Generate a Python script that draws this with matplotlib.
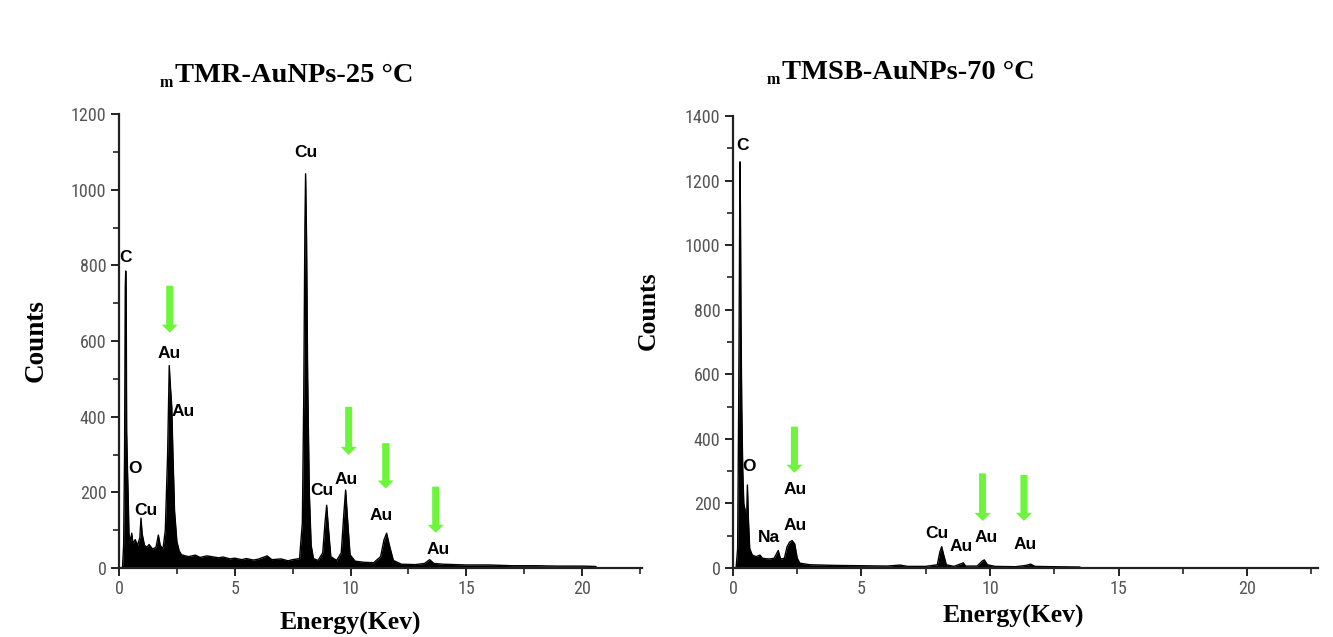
import matplotlib
matplotlib.use("Agg")
import matplotlib.pyplot as plt
from matplotlib import font_manager
from matplotlib.ticker import MultipleLocator
from matplotlib.patches import FancyArrow

# ---------------- data ----------------
# Left panel: mTMR-AuNPs-25 °C
left_energy = [0.15, 0.20, 0.24, 0.27, 0.29, 0.31, 0.33, 0.37, 0.40, 0.43, 0.50, 0.55, 0.60,
               0.70, 0.80, 0.90, 0.95, 1.00, 1.10, 1.20, 1.30, 1.45, 1.60, 1.70, 1.78, 1.90,
               2.00, 2.10, 2.17, 2.22, 2.28, 2.33, 2.40, 2.50, 2.60, 2.70, 3.00, 3.30, 3.50,
               3.80, 4.00, 4.30, 4.50, 4.80, 5.00, 5.30, 5.50, 5.80, 6.00, 6.40, 6.60, 7.00,
               7.30, 7.50, 7.80, 7.92, 7.98, 8.03, 8.06,
               8.10, 8.15, 8.22, 8.30, 8.40, 8.60, 8.80, 8.90, 8.97, 9.04, 9.15, 9.40, 9.60,
               9.72, 9.79, 9.86, 9.98, 10.2, 10.6, 11.0, 11.3, 11.45, 11.56, 11.68, 11.85,
               12.2, 12.8, 13.2, 13.42, 13.6, 14.0, 15.0, 16.0, 17.0, 18.0, 19.0, 20.0, 20.6, 20.62]
left_counts = [0, 60, 300, 740, 785, 740, 360, 250, 180, 90, 70, 92, 65,
               75, 60, 80, 132, 90, 60, 55, 62, 50, 55, 87, 60, 50,
               100, 300, 535, 480, 425, 300, 150, 70, 45, 35, 30, 34, 28,
               32, 30, 27, 29, 24, 26, 22, 25, 21, 23, 32, 22, 24,
               19, 22, 25, 120, 450, 900, 1042,
               880, 500, 200, 60, 25, 20, 40, 120, 166, 110, 30, 20, 40,
               150, 206, 140, 35, 18, 15, 14, 30, 75, 92, 60, 20,
               10, 9, 12, 22, 12, 10, 8, 8, 6, 6, 5, 5, 4, 0]

# Right panel: mTMSB-AuNPs-70 °C
right_energy = [0.12, 0.18, 0.22, 0.25, 0.27, 0.29, 0.31, 0.34, 0.38, 0.42, 0.47, 0.52, 0.56,
                0.60, 0.65, 0.75, 0.90, 1.05, 1.15, 1.40, 1.60, 1.76, 1.85, 2.00, 2.10, 2.20,
                2.30, 2.40, 2.50, 2.60, 3.00, 3.50, 4.00, 5.00, 6.00, 6.50, 6.80, 7.50, 7.95,
                8.05, 8.12, 8.20, 8.30, 8.60, 8.90, 8.96, 9.05, 9.50, 9.70, 9.78, 9.90, 10.2,
                11.0, 11.4, 11.58, 11.75, 12.5, 13.5, 13.52]
right_counts = [0, 60, 500, 920, 1258, 1100, 780, 500, 300, 200, 180, 120, 257,
                150, 60, 40, 35, 40, 30, 28, 30, 54, 28, 30, 65, 80,
                85, 75, 30, 15, 10, 9, 8, 7, 6, 9, 5, 5, 10,
                50, 66, 40, 10, 5, 14, 16, 6, 6, 22, 25, 10, 5,
                4, 8, 12, 5, 4, 3, 0]

# peak labels: (text, energy, counts)
left_labels = [("C", 0.30, 822), ("Cu", 8.08, 1097), ("Au", 2.16, 568), ("Au", 2.78, 413),
               ("O", 0.69, 264), ("Cu", 1.17, 153), ("Cu", 8.77, 206), ("Au", 9.81, 235),
               ("Au", 11.32, 140), ("Au", 13.78, 50)]
right_labels = [("C", 0.36, 1310), ("O", 0.62, 314), ("Au", 2.41, 244), ("Na", 1.41, 94),
                ("Au", 2.41, 133), ("Cu", 7.93, 107), ("Au", 8.87, 66), ("Au", 9.87, 94),
                ("Au", 11.36, 74)]

# green arrows: (energy, start counts, tip counts)
left_arrows = [(2.19, 746, 622), (9.92, 426, 299), (11.52, 330, 210), (13.68, 215, 93)]
right_arrows = [(2.39, 438, 295), (9.71, 293, 146), (11.32, 288, 146)]

left_title = "TMR-AuNPs-25 °C"
right_title = "TMSB-AuNPs-70 °C"
x_label = "Energy(Kev)"
y_label = "Counts"

# ---------------- fonts ----------------
available = {f.name for f in font_manager.fontManager.ttflist}
def pick(cands):
    for c in cands:
        if c in available:
            return c
    return "DejaVu Sans"
narrow = pick(["Liberation Sans Narrow", "DejaVu Sans Condensed", "Roboto Condensed", "Liberation Sans"])
sans = pick(["Liberation Sans", "Arimo", "DejaVu Sans"])
serif = pick(["Liberation Serif", "Tinos", "DejaVu Serif"])

W, H = 1333, 637
fig = plt.figure(figsize=(W / 100, H / 100), dpi=100)

def fx(px):
    return px / W

def fy(py):
    return 1 - py / H

GREEN = "#6cf53a"
TICKC = "#555555"

def make_panel(rect, xmax, energy, counts, ymax, labels, arrows, xppu, yppu):
    ax = fig.add_axes(rect)
    ax.fill_between(energy, counts, 0, color="black", linewidth=0)
    ax.plot(energy, counts, color="black", linewidth=1.0)
    ax.set_xlim(0, xmax)
    ax.set_ylim(0, ymax)
    for s in ("top", "right"):
        ax.spines[s].set_visible(False)
    for s in ("left", "bottom"):
        ax.spines[s].set_linewidth(1.6)
        ax.spines[s].set_color("#222222")
    ax.xaxis.set_major_locator(MultipleLocator(5))
    ax.xaxis.set_minor_locator(MultipleLocator(2.5))
    ax.yaxis.set_major_locator(MultipleLocator(200))
    ax.yaxis.set_minor_locator(MultipleLocator(100))
    ax.tick_params(which="major", direction="out", length=6, width=1.4, color="#222222",
                   labelcolor=TICKC, labelsize=13, pad=3)
    ax.tick_params(which="minor", direction="out", length=4, width=1.2, color="#222222")
    for lab in ax.get_xticklabels() + ax.get_yticklabels():
        lab.set_fontfamily(narrow)
    for t, x, y in labels:
        ax.text(x, y, t, ha="center", va="center", fontsize=12.5, fontweight="bold",
                family=sans, color="black")
    for x, y0, y1 in arrows:
        hl = 8 / yppu
        ar = FancyArrow(x, y0, 0, y1 - y0, width=7 / xppu, head_width=16 / xppu,
                        head_length=hl, length_includes_head=True, color=GREEN,
                        linewidth=0)
        ax.add_patch(ar)
    return ax

# left axes: x 0 at px 119, 23.15 px per keV; y 0 at px 568, 1200 at px 114
lx0, lxppu, lxmax = 119, 23.15, 22.6
ly0, ly1 = 568, 114
axL = make_panel([fx(lx0), fy(ly0), fx(lxmax * lxppu), (ly0 - ly1) / H], lxmax,
                 left_energy, left_counts, 1200, left_labels, left_arrows,
                 lxppu, (ly0 - ly1) / 1200)

rx0, rxppu, rxmax = 733, 25.7, 22.75
ry0, ry1 = 568, 116
axR = make_panel([fx(rx0), fy(ry0), fx(rxmax * rxppu), (ry0 - ry1) / H], rxmax,
                 right_energy, right_counts, 1400, right_labels, right_arrows,
                 rxppu, (ry0 - ry1) / 1400)

# titles with subscript m
fig.text(fx(160), fy(87), "m", fontsize=11.5, fontweight="bold", family=serif, ha="left", va="baseline")
fig.text(fx(175), fy(82), left_title, fontsize=20.5, fontweight="bold", family=serif, ha="left", va="baseline")
fig.text(fx(767), fy(84), "m", fontsize=11.5, fontweight="bold", family=serif, ha="left", va="baseline")
fig.text(fx(782), fy(79), right_title, fontsize=20.5, fontweight="bold", family=serif, ha="left", va="baseline")

# axis labels
fig.text(fx(36), fy(341), y_label, rotation=90, fontsize=19.5, fontweight="bold", family=serif,
         ha="center", va="center")
fig.text(fx(648), fy(311), y_label, rotation=90, fontsize=18.5, fontweight="bold", family=serif,
         ha="center", va="center")
fig.text(fx(350), fy(630), x_label, fontsize=18.5, fontweight="bold", family=serif,
         ha="center", va="baseline")
fig.text(fx(1013), fy(623), x_label, fontsize=18.5, fontweight="bold", family=serif,
         ha="center", va="baseline")

fig.savefig("out.png", dpi=100, facecolor="white")
